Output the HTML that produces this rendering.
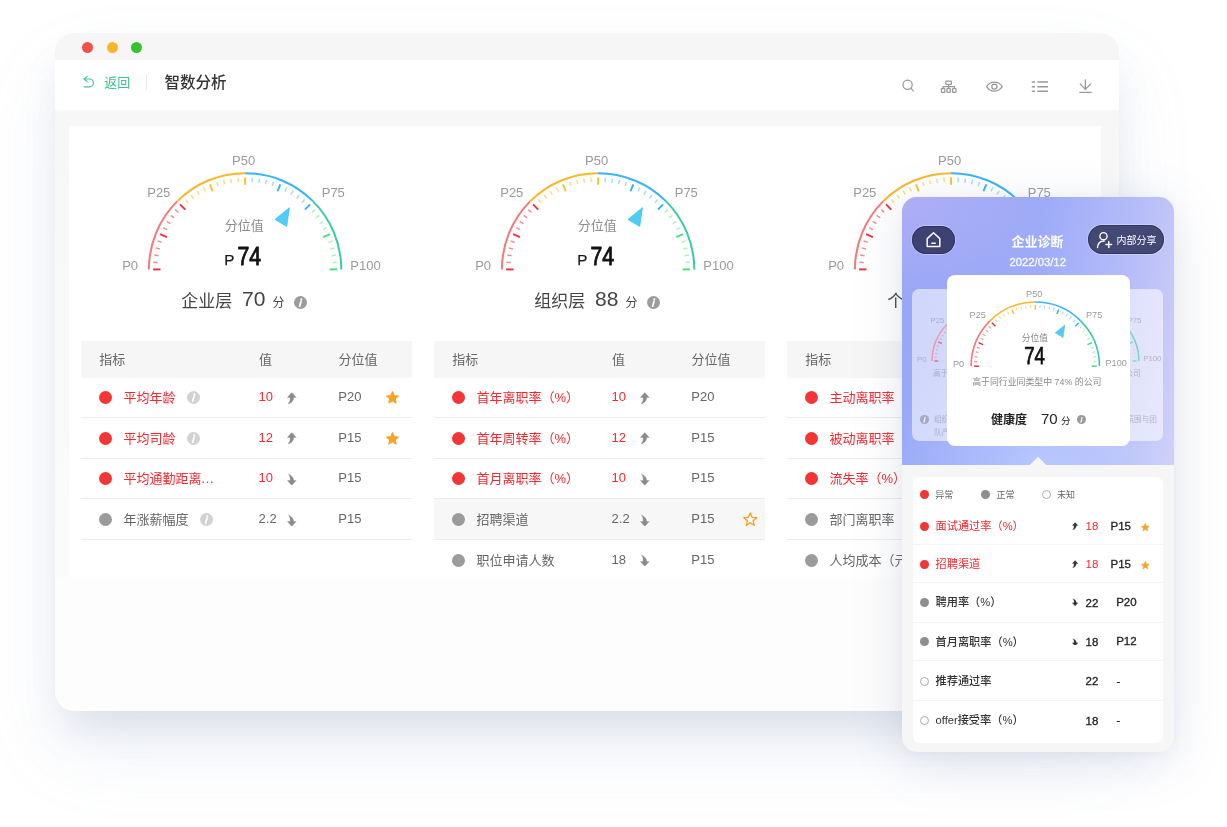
<!DOCTYPE html>
<html><head><meta charset="utf-8"><title>智数分析</title>
<style>
*{margin:0;padding:0;box-sizing:border-box}
html,body{width:1227px;height:827px;overflow:hidden;background:#fff}
body{position:relative;font-family:"Liberation Sans", "Noto Sans CJK SC", sans-serif}
.abs{position:absolute}
.t{white-space:nowrap}
svg text{font-family:"Liberation Sans", "Noto Sans CJK SC", sans-serif}
</style></head><body>
<div class="abs" style="left:55.0px;top:33.0px;width:1063.6px;height:677.5px;border-radius:20px;background:linear-gradient(to bottom,#f7f7f7 0px,#f7f7f7 95px,#f9f9f9 300px,#fbfbfb 544px);overflow:hidden;box-shadow:0 26px 40px -10px rgba(120,135,175,0.20), 0 40px 80px rgba(130,145,190,0.11)">
</div>
<div class="abs" style="left:55.0px;top:33.0px;width:1063.6px;height:27px;background:#f6f6f6;border-radius:20px 20px 0 0"></div>
<div class="abs" style="left:82.30px;top:41.60px;width:11.2px;height:11.2px;background:#f64f4a;border-radius:50%"></div>
<div class="abs" style="left:107.00px;top:41.60px;width:11.2px;height:11.2px;background:#fbb42c;border-radius:50%"></div>
<div class="abs" style="left:130.50px;top:41.60px;width:11.2px;height:11.2px;background:#37c234;border-radius:50%"></div>
<div class="abs" style="left:55.0px;top:60px;width:1063.6px;height:50px;background:#fff"></div>
<svg class="abs" style="left:82px;top:75px" width="15" height="14" viewBox="0 0 15 14"><path d="M2.2 4.0 L7.5 4.0 A3.9 3.9 0 0 1 7.5 11.8 L2.2 11.8" fill="none" stroke="#48c595" stroke-width="1.2" stroke-linecap="round"/><path d="M5.2 1.4 L2.1 4.0 L5.2 6.6" fill="none" stroke="#48c595" stroke-width="1.2" stroke-linecap="round" stroke-linejoin="round"/></svg>
<div class="abs t" style="left:104.30px;top:74.18px;font-size:13px;line-height:18.20px;color:#3ec18f;font-weight:normal;">返回</div>
<div class="abs" style="left:146px;top:75px;width:1px;height:14.5px;background:#e8e8e8"></div>
<div class="abs t" style="left:164.50px;top:72.38px;font-size:15.5px;line-height:21.70px;color:#333;font-weight:500;">智数分析</div>
<svg class="abs" style="left:0;top:0" width="1227" height="120" viewBox="0 0 1227 120"><g fill="none" stroke="#999999" stroke-width="1.25"><circle cx="907.6" cy="84.8" r="4.6"/><path d="M910.9 88.2 L913.3 90.8" stroke-linecap="round"/><rect x="945.8" y="81.1" width="5.6" height="3.3" rx="0.6"/><path d="M948.6 84.4 L948.6 88.3 M943.1 88.4 L943.1 86.5 L954.5 86.5 L954.5 88.4"/><rect x="941.4" y="88.5" width="3.4" height="3.8" rx="0.6"/><rect x="946.9" y="88.5" width="3.4" height="3.8" rx="0.6"/><rect x="952.6" y="88.5" width="3.4" height="3.8" rx="0.6"/><path d="M986.6 86.6 C990.5 80.6 998.3 80.6 1002.2 86.6 C998.3 92.6 990.5 92.6 986.6 86.6 Z"/><circle cx="994.4" cy="86.6" r="2.6"/></g><g stroke="#999999" stroke-width="1.5" fill="none"><path d="M1031.8 82.1 L1035 82.1 M1037.3 82.1 L1048 82.1 M1031.8 86.7 L1035 86.7 M1037.3 86.7 L1048 86.7 M1031.8 91.2 L1035 91.2 M1037.3 91.2 L1048 91.2"/></g><g stroke="#999999" stroke-width="1.3" fill="none" stroke-linecap="round" stroke-linejoin="round"><path d="M1085.4 79.8 L1085.4 89.4 M1080.2 83.9 L1085.4 89.4 L1090.7 83.9"/><path d="M1079.3 92.4 L1091.7 92.4" stroke-linecap="butt"/></g></svg>
<div class="abs" style="left:55.0px;top:577px;width:1063.6px;height:133.5px;background:#fdfdfd;border-radius:0 0 20px 20px"></div>
<div class="abs" style="left:69px;top:125.8px;width:1032.2px;height:451.2px;background:#fff"></div>
<svg class="abs" style="left:0;top:0" width="1227" height="600" viewBox="0 0 1227 600">
<g opacity="1.0">
<path d="M148.90 269.40A96.20 96.20 0 0 1 177.08 201.38" stroke="#f7777a" stroke-width="2.0" fill="none"/>
<path d="M177.08 201.38A96.20 96.20 0 0 1 245.10 173.20" stroke="#f7b72e" stroke-width="2.0" fill="none"/>
<path d="M245.10 173.20A96.20 96.20 0 0 1 313.12 201.38" stroke="#3ab3fa" stroke-width="2.0" fill="none"/>
<path d="M313.12 201.38A96.20 96.20 0 0 1 341.30 269.40" stroke="#3ccaa6" stroke-width="2.0" fill="none"/>
<line x1="153.10" y1="269.40" x2="160.50" y2="269.40" stroke="#ec3140" stroke-width="1.90" opacity="1"/>
<line x1="153.38" y1="262.18" x2="157.77" y2="262.53" stroke="#f37a85" stroke-width="1.40" opacity="0.85"/>
<line x1="154.23" y1="255.01" x2="158.58" y2="255.70" stroke="#f37a85" stroke-width="1.40" opacity="0.85"/>
<line x1="155.64" y1="247.92" x2="159.92" y2="248.95" stroke="#f37a85" stroke-width="1.40" opacity="0.85"/>
<line x1="157.60" y1="240.97" x2="161.79" y2="242.33" stroke="#f37a85" stroke-width="1.40" opacity="0.85"/>
<line x1="160.10" y1="234.19" x2="166.94" y2="237.02" stroke="#ec3140" stroke-width="1.90" opacity="1"/>
<line x1="163.13" y1="227.63" x2="167.05" y2="229.63" stroke="#f37a85" stroke-width="1.40" opacity="0.85"/>
<line x1="166.66" y1="221.33" x2="170.41" y2="223.63" stroke="#f37a85" stroke-width="1.40" opacity="0.85"/>
<line x1="170.67" y1="215.32" x2="174.23" y2="217.91" stroke="#f37a85" stroke-width="1.40" opacity="0.85"/>
<line x1="175.14" y1="209.65" x2="178.49" y2="212.51" stroke="#f37a85" stroke-width="1.40" opacity="0.85"/>
<line x1="180.05" y1="204.35" x2="185.28" y2="209.58" stroke="#ec3140" stroke-width="1.90" opacity="1"/>
<line x1="185.35" y1="199.44" x2="188.21" y2="202.79" stroke="#f9d769" stroke-width="1.40" opacity="0.85"/>
<line x1="191.02" y1="194.97" x2="193.61" y2="198.53" stroke="#f9d769" stroke-width="1.40" opacity="0.85"/>
<line x1="197.03" y1="190.96" x2="199.33" y2="194.71" stroke="#f9d769" stroke-width="1.40" opacity="0.85"/>
<line x1="203.33" y1="187.43" x2="205.33" y2="191.35" stroke="#f9d769" stroke-width="1.40" opacity="0.85"/>
<line x1="209.89" y1="184.40" x2="212.72" y2="191.24" stroke="#f7c226" stroke-width="1.90" opacity="1"/>
<line x1="216.67" y1="181.90" x2="218.03" y2="186.09" stroke="#f9d769" stroke-width="1.40" opacity="0.85"/>
<line x1="223.62" y1="179.94" x2="224.65" y2="184.22" stroke="#f9d769" stroke-width="1.40" opacity="0.85"/>
<line x1="230.71" y1="178.53" x2="231.40" y2="182.88" stroke="#f9d769" stroke-width="1.40" opacity="0.85"/>
<line x1="237.88" y1="177.68" x2="238.23" y2="182.07" stroke="#f9d769" stroke-width="1.40" opacity="0.85"/>
<line x1="245.10" y1="177.40" x2="245.10" y2="184.80" stroke="#f7c226" stroke-width="1.90" opacity="1"/>
<line x1="252.32" y1="177.68" x2="251.97" y2="182.07" stroke="#8ed8f8" stroke-width="1.40" opacity="0.85"/>
<line x1="259.49" y1="178.53" x2="258.80" y2="182.88" stroke="#8ed8f8" stroke-width="1.40" opacity="0.85"/>
<line x1="266.58" y1="179.94" x2="265.55" y2="184.22" stroke="#8ed8f8" stroke-width="1.40" opacity="0.85"/>
<line x1="273.53" y1="181.90" x2="272.17" y2="186.09" stroke="#8ed8f8" stroke-width="1.40" opacity="0.85"/>
<line x1="280.31" y1="184.40" x2="277.48" y2="191.24" stroke="#2fb5f2" stroke-width="1.90" opacity="1"/>
<line x1="286.87" y1="187.43" x2="284.87" y2="191.35" stroke="#8ed8f8" stroke-width="1.40" opacity="0.85"/>
<line x1="293.17" y1="190.96" x2="290.87" y2="194.71" stroke="#8ed8f8" stroke-width="1.40" opacity="0.85"/>
<line x1="299.18" y1="194.97" x2="296.59" y2="198.53" stroke="#8ed8f8" stroke-width="1.40" opacity="0.85"/>
<line x1="304.85" y1="199.44" x2="301.99" y2="202.79" stroke="#8ed8f8" stroke-width="1.40" opacity="0.85"/>
<line x1="310.15" y1="204.35" x2="304.92" y2="209.58" stroke="#2fb5f2" stroke-width="1.90" opacity="1"/>
<line x1="315.06" y1="209.65" x2="311.71" y2="212.51" stroke="#a3edb9" stroke-width="1.40" opacity="0.85"/>
<line x1="319.53" y1="215.32" x2="315.97" y2="217.91" stroke="#a3edb9" stroke-width="1.40" opacity="0.85"/>
<line x1="323.54" y1="221.33" x2="319.79" y2="223.63" stroke="#a3edb9" stroke-width="1.40" opacity="0.85"/>
<line x1="327.07" y1="227.63" x2="323.15" y2="229.63" stroke="#a3edb9" stroke-width="1.40" opacity="0.85"/>
<line x1="330.10" y1="234.19" x2="323.26" y2="237.02" stroke="#4cdc80" stroke-width="1.90" opacity="1"/>
<line x1="332.60" y1="240.97" x2="328.41" y2="242.33" stroke="#a3edb9" stroke-width="1.40" opacity="0.85"/>
<line x1="334.56" y1="247.92" x2="330.28" y2="248.95" stroke="#a3edb9" stroke-width="1.40" opacity="0.85"/>
<line x1="335.97" y1="255.01" x2="331.62" y2="255.70" stroke="#a3edb9" stroke-width="1.40" opacity="0.85"/>
<line x1="336.82" y1="262.18" x2="332.43" y2="262.53" stroke="#a3edb9" stroke-width="1.40" opacity="0.85"/>
<line x1="337.10" y1="269.40" x2="329.70" y2="269.40" stroke="#4cdc80" stroke-width="1.90" opacity="1"/>
<polygon points="289.40,207.70 275.00,219.40 286.70,226.40" fill="#50ccf5" stroke="#40c3ef" stroke-width="0.80" stroke-linejoin="round"/>
<text x="243.60" y="165.00" font-size="13" fill="#9a9a9a" text-anchor="middle">P50</text>
<text x="158.80" y="197.10" font-size="13" fill="#9a9a9a" text-anchor="middle">P25</text>
<text x="333.30" y="197.10" font-size="13" fill="#9a9a9a" text-anchor="middle">P75</text>
<text x="130.10" y="270.40" font-size="13" fill="#9a9a9a" text-anchor="middle">P0</text>
<text x="350.30" y="269.80" font-size="13" fill="#9a9a9a" text-anchor="start">P100</text>
</g>
<text x="244.20" y="230.40" font-size="13" fill="#8c8c8c" text-anchor="middle">分位值</text>
<text x="224.20" y="265.10" font-size="15.2" fill="#1a1a1a" stroke="#1a1a1a" stroke-width="0.25">P</text>
<text x="237.50" y="265.40" font-size="26.5" fill="#111" stroke="#111" stroke-width="0.9" textLength="23.7" lengthAdjust="spacingAndGlyphs">74</text>
<g opacity="1.0">
<path d="M501.90 269.40A96.20 96.20 0 0 1 530.08 201.38" stroke="#f7777a" stroke-width="2.0" fill="none"/>
<path d="M530.08 201.38A96.20 96.20 0 0 1 598.10 173.20" stroke="#f7b72e" stroke-width="2.0" fill="none"/>
<path d="M598.10 173.20A96.20 96.20 0 0 1 666.12 201.38" stroke="#3ab3fa" stroke-width="2.0" fill="none"/>
<path d="M666.12 201.38A96.20 96.20 0 0 1 694.30 269.40" stroke="#3ccaa6" stroke-width="2.0" fill="none"/>
<line x1="506.10" y1="269.40" x2="513.50" y2="269.40" stroke="#ec3140" stroke-width="1.90" opacity="1"/>
<line x1="506.38" y1="262.18" x2="510.77" y2="262.53" stroke="#f37a85" stroke-width="1.40" opacity="0.85"/>
<line x1="507.23" y1="255.01" x2="511.58" y2="255.70" stroke="#f37a85" stroke-width="1.40" opacity="0.85"/>
<line x1="508.64" y1="247.92" x2="512.92" y2="248.95" stroke="#f37a85" stroke-width="1.40" opacity="0.85"/>
<line x1="510.60" y1="240.97" x2="514.79" y2="242.33" stroke="#f37a85" stroke-width="1.40" opacity="0.85"/>
<line x1="513.10" y1="234.19" x2="519.94" y2="237.02" stroke="#ec3140" stroke-width="1.90" opacity="1"/>
<line x1="516.13" y1="227.63" x2="520.05" y2="229.63" stroke="#f37a85" stroke-width="1.40" opacity="0.85"/>
<line x1="519.66" y1="221.33" x2="523.41" y2="223.63" stroke="#f37a85" stroke-width="1.40" opacity="0.85"/>
<line x1="523.67" y1="215.32" x2="527.23" y2="217.91" stroke="#f37a85" stroke-width="1.40" opacity="0.85"/>
<line x1="528.14" y1="209.65" x2="531.49" y2="212.51" stroke="#f37a85" stroke-width="1.40" opacity="0.85"/>
<line x1="533.05" y1="204.35" x2="538.28" y2="209.58" stroke="#ec3140" stroke-width="1.90" opacity="1"/>
<line x1="538.35" y1="199.44" x2="541.21" y2="202.79" stroke="#f9d769" stroke-width="1.40" opacity="0.85"/>
<line x1="544.02" y1="194.97" x2="546.61" y2="198.53" stroke="#f9d769" stroke-width="1.40" opacity="0.85"/>
<line x1="550.03" y1="190.96" x2="552.33" y2="194.71" stroke="#f9d769" stroke-width="1.40" opacity="0.85"/>
<line x1="556.33" y1="187.43" x2="558.33" y2="191.35" stroke="#f9d769" stroke-width="1.40" opacity="0.85"/>
<line x1="562.89" y1="184.40" x2="565.72" y2="191.24" stroke="#f7c226" stroke-width="1.90" opacity="1"/>
<line x1="569.67" y1="181.90" x2="571.03" y2="186.09" stroke="#f9d769" stroke-width="1.40" opacity="0.85"/>
<line x1="576.62" y1="179.94" x2="577.65" y2="184.22" stroke="#f9d769" stroke-width="1.40" opacity="0.85"/>
<line x1="583.71" y1="178.53" x2="584.40" y2="182.88" stroke="#f9d769" stroke-width="1.40" opacity="0.85"/>
<line x1="590.88" y1="177.68" x2="591.23" y2="182.07" stroke="#f9d769" stroke-width="1.40" opacity="0.85"/>
<line x1="598.10" y1="177.40" x2="598.10" y2="184.80" stroke="#f7c226" stroke-width="1.90" opacity="1"/>
<line x1="605.32" y1="177.68" x2="604.97" y2="182.07" stroke="#8ed8f8" stroke-width="1.40" opacity="0.85"/>
<line x1="612.49" y1="178.53" x2="611.80" y2="182.88" stroke="#8ed8f8" stroke-width="1.40" opacity="0.85"/>
<line x1="619.58" y1="179.94" x2="618.55" y2="184.22" stroke="#8ed8f8" stroke-width="1.40" opacity="0.85"/>
<line x1="626.53" y1="181.90" x2="625.17" y2="186.09" stroke="#8ed8f8" stroke-width="1.40" opacity="0.85"/>
<line x1="633.31" y1="184.40" x2="630.48" y2="191.24" stroke="#2fb5f2" stroke-width="1.90" opacity="1"/>
<line x1="639.87" y1="187.43" x2="637.87" y2="191.35" stroke="#8ed8f8" stroke-width="1.40" opacity="0.85"/>
<line x1="646.17" y1="190.96" x2="643.87" y2="194.71" stroke="#8ed8f8" stroke-width="1.40" opacity="0.85"/>
<line x1="652.18" y1="194.97" x2="649.59" y2="198.53" stroke="#8ed8f8" stroke-width="1.40" opacity="0.85"/>
<line x1="657.85" y1="199.44" x2="654.99" y2="202.79" stroke="#8ed8f8" stroke-width="1.40" opacity="0.85"/>
<line x1="663.15" y1="204.35" x2="657.92" y2="209.58" stroke="#2fb5f2" stroke-width="1.90" opacity="1"/>
<line x1="668.06" y1="209.65" x2="664.71" y2="212.51" stroke="#a3edb9" stroke-width="1.40" opacity="0.85"/>
<line x1="672.53" y1="215.32" x2="668.97" y2="217.91" stroke="#a3edb9" stroke-width="1.40" opacity="0.85"/>
<line x1="676.54" y1="221.33" x2="672.79" y2="223.63" stroke="#a3edb9" stroke-width="1.40" opacity="0.85"/>
<line x1="680.07" y1="227.63" x2="676.15" y2="229.63" stroke="#a3edb9" stroke-width="1.40" opacity="0.85"/>
<line x1="683.10" y1="234.19" x2="676.26" y2="237.02" stroke="#4cdc80" stroke-width="1.90" opacity="1"/>
<line x1="685.60" y1="240.97" x2="681.41" y2="242.33" stroke="#a3edb9" stroke-width="1.40" opacity="0.85"/>
<line x1="687.56" y1="247.92" x2="683.28" y2="248.95" stroke="#a3edb9" stroke-width="1.40" opacity="0.85"/>
<line x1="688.97" y1="255.01" x2="684.62" y2="255.70" stroke="#a3edb9" stroke-width="1.40" opacity="0.85"/>
<line x1="689.82" y1="262.18" x2="685.43" y2="262.53" stroke="#a3edb9" stroke-width="1.40" opacity="0.85"/>
<line x1="690.10" y1="269.40" x2="682.70" y2="269.40" stroke="#4cdc80" stroke-width="1.90" opacity="1"/>
<polygon points="642.40,207.70 628.00,219.40 639.70,226.40" fill="#50ccf5" stroke="#40c3ef" stroke-width="0.80" stroke-linejoin="round"/>
<text x="596.60" y="165.00" font-size="13" fill="#9a9a9a" text-anchor="middle">P50</text>
<text x="511.80" y="197.10" font-size="13" fill="#9a9a9a" text-anchor="middle">P25</text>
<text x="686.30" y="197.10" font-size="13" fill="#9a9a9a" text-anchor="middle">P75</text>
<text x="483.10" y="270.40" font-size="13" fill="#9a9a9a" text-anchor="middle">P0</text>
<text x="703.30" y="269.80" font-size="13" fill="#9a9a9a" text-anchor="start">P100</text>
</g>
<text x="597.20" y="230.40" font-size="13" fill="#8c8c8c" text-anchor="middle">分位值</text>
<text x="577.20" y="265.10" font-size="15.2" fill="#1a1a1a" stroke="#1a1a1a" stroke-width="0.25">P</text>
<text x="590.50" y="265.40" font-size="26.5" fill="#111" stroke="#111" stroke-width="0.9" textLength="23.7" lengthAdjust="spacingAndGlyphs">74</text>
<g opacity="1.0">
<path d="M854.90 269.40A96.20 96.20 0 0 1 883.08 201.38" stroke="#f7777a" stroke-width="2.0" fill="none"/>
<path d="M883.08 201.38A96.20 96.20 0 0 1 951.10 173.20" stroke="#f7b72e" stroke-width="2.0" fill="none"/>
<path d="M951.10 173.20A96.20 96.20 0 0 1 1019.12 201.38" stroke="#3ab3fa" stroke-width="2.0" fill="none"/>
<path d="M1019.12 201.38A96.20 96.20 0 0 1 1047.30 269.40" stroke="#3ccaa6" stroke-width="2.0" fill="none"/>
<line x1="859.10" y1="269.40" x2="866.50" y2="269.40" stroke="#ec3140" stroke-width="1.90" opacity="1"/>
<line x1="859.38" y1="262.18" x2="863.77" y2="262.53" stroke="#f37a85" stroke-width="1.40" opacity="0.85"/>
<line x1="860.23" y1="255.01" x2="864.58" y2="255.70" stroke="#f37a85" stroke-width="1.40" opacity="0.85"/>
<line x1="861.64" y1="247.92" x2="865.92" y2="248.95" stroke="#f37a85" stroke-width="1.40" opacity="0.85"/>
<line x1="863.60" y1="240.97" x2="867.79" y2="242.33" stroke="#f37a85" stroke-width="1.40" opacity="0.85"/>
<line x1="866.10" y1="234.19" x2="872.94" y2="237.02" stroke="#ec3140" stroke-width="1.90" opacity="1"/>
<line x1="869.13" y1="227.63" x2="873.05" y2="229.63" stroke="#f37a85" stroke-width="1.40" opacity="0.85"/>
<line x1="872.66" y1="221.33" x2="876.41" y2="223.63" stroke="#f37a85" stroke-width="1.40" opacity="0.85"/>
<line x1="876.67" y1="215.32" x2="880.23" y2="217.91" stroke="#f37a85" stroke-width="1.40" opacity="0.85"/>
<line x1="881.14" y1="209.65" x2="884.49" y2="212.51" stroke="#f37a85" stroke-width="1.40" opacity="0.85"/>
<line x1="886.05" y1="204.35" x2="891.28" y2="209.58" stroke="#ec3140" stroke-width="1.90" opacity="1"/>
<line x1="891.35" y1="199.44" x2="894.21" y2="202.79" stroke="#f9d769" stroke-width="1.40" opacity="0.85"/>
<line x1="897.02" y1="194.97" x2="899.61" y2="198.53" stroke="#f9d769" stroke-width="1.40" opacity="0.85"/>
<line x1="903.03" y1="190.96" x2="905.33" y2="194.71" stroke="#f9d769" stroke-width="1.40" opacity="0.85"/>
<line x1="909.33" y1="187.43" x2="911.33" y2="191.35" stroke="#f9d769" stroke-width="1.40" opacity="0.85"/>
<line x1="915.89" y1="184.40" x2="918.72" y2="191.24" stroke="#f7c226" stroke-width="1.90" opacity="1"/>
<line x1="922.67" y1="181.90" x2="924.03" y2="186.09" stroke="#f9d769" stroke-width="1.40" opacity="0.85"/>
<line x1="929.62" y1="179.94" x2="930.65" y2="184.22" stroke="#f9d769" stroke-width="1.40" opacity="0.85"/>
<line x1="936.71" y1="178.53" x2="937.40" y2="182.88" stroke="#f9d769" stroke-width="1.40" opacity="0.85"/>
<line x1="943.88" y1="177.68" x2="944.23" y2="182.07" stroke="#f9d769" stroke-width="1.40" opacity="0.85"/>
<line x1="951.10" y1="177.40" x2="951.10" y2="184.80" stroke="#f7c226" stroke-width="1.90" opacity="1"/>
<line x1="958.32" y1="177.68" x2="957.97" y2="182.07" stroke="#8ed8f8" stroke-width="1.40" opacity="0.85"/>
<line x1="965.49" y1="178.53" x2="964.80" y2="182.88" stroke="#8ed8f8" stroke-width="1.40" opacity="0.85"/>
<line x1="972.58" y1="179.94" x2="971.55" y2="184.22" stroke="#8ed8f8" stroke-width="1.40" opacity="0.85"/>
<line x1="979.53" y1="181.90" x2="978.17" y2="186.09" stroke="#8ed8f8" stroke-width="1.40" opacity="0.85"/>
<line x1="986.31" y1="184.40" x2="983.48" y2="191.24" stroke="#2fb5f2" stroke-width="1.90" opacity="1"/>
<line x1="992.87" y1="187.43" x2="990.87" y2="191.35" stroke="#8ed8f8" stroke-width="1.40" opacity="0.85"/>
<line x1="999.17" y1="190.96" x2="996.87" y2="194.71" stroke="#8ed8f8" stroke-width="1.40" opacity="0.85"/>
<line x1="1005.18" y1="194.97" x2="1002.59" y2="198.53" stroke="#8ed8f8" stroke-width="1.40" opacity="0.85"/>
<line x1="1010.85" y1="199.44" x2="1007.99" y2="202.79" stroke="#8ed8f8" stroke-width="1.40" opacity="0.85"/>
<line x1="1016.15" y1="204.35" x2="1010.92" y2="209.58" stroke="#2fb5f2" stroke-width="1.90" opacity="1"/>
<line x1="1021.06" y1="209.65" x2="1017.71" y2="212.51" stroke="#a3edb9" stroke-width="1.40" opacity="0.85"/>
<line x1="1025.53" y1="215.32" x2="1021.97" y2="217.91" stroke="#a3edb9" stroke-width="1.40" opacity="0.85"/>
<line x1="1029.54" y1="221.33" x2="1025.79" y2="223.63" stroke="#a3edb9" stroke-width="1.40" opacity="0.85"/>
<line x1="1033.07" y1="227.63" x2="1029.15" y2="229.63" stroke="#a3edb9" stroke-width="1.40" opacity="0.85"/>
<line x1="1036.10" y1="234.19" x2="1029.26" y2="237.02" stroke="#4cdc80" stroke-width="1.90" opacity="1"/>
<line x1="1038.60" y1="240.97" x2="1034.41" y2="242.33" stroke="#a3edb9" stroke-width="1.40" opacity="0.85"/>
<line x1="1040.56" y1="247.92" x2="1036.28" y2="248.95" stroke="#a3edb9" stroke-width="1.40" opacity="0.85"/>
<line x1="1041.97" y1="255.01" x2="1037.62" y2="255.70" stroke="#a3edb9" stroke-width="1.40" opacity="0.85"/>
<line x1="1042.82" y1="262.18" x2="1038.43" y2="262.53" stroke="#a3edb9" stroke-width="1.40" opacity="0.85"/>
<line x1="1043.10" y1="269.40" x2="1035.70" y2="269.40" stroke="#4cdc80" stroke-width="1.90" opacity="1"/>
<polygon points="995.40,207.70 981.00,219.40 992.70,226.40" fill="#50ccf5" stroke="#40c3ef" stroke-width="0.80" stroke-linejoin="round"/>
<text x="949.60" y="165.00" font-size="13" fill="#9a9a9a" text-anchor="middle">P50</text>
<text x="864.80" y="197.10" font-size="13" fill="#9a9a9a" text-anchor="middle">P25</text>
<text x="1039.30" y="197.10" font-size="13" fill="#9a9a9a" text-anchor="middle">P75</text>
<text x="836.10" y="270.40" font-size="13" fill="#9a9a9a" text-anchor="middle">P0</text>
<text x="1056.30" y="269.80" font-size="13" fill="#9a9a9a" text-anchor="start">P100</text>
</g>
<text x="950.20" y="230.40" font-size="13" fill="#8c8c8c" text-anchor="middle">分位值</text>
<text x="930.20" y="265.10" font-size="15.2" fill="#1a1a1a" stroke="#1a1a1a" stroke-width="0.25">P</text>
<text x="943.50" y="265.40" font-size="26.5" fill="#111" stroke="#111" stroke-width="0.9" textLength="23.7" lengthAdjust="spacingAndGlyphs">74</text>
</svg>
<div class="abs t" style="left:181.20px;top:289.62px;font-size:17px;line-height:23.80px;color:#444;font-weight:normal;">企业层</div>
<div class="abs t" style="left:242.00px;top:287.00px;font-size:21px;line-height:24px;color:#444;font-weight:300">70</div>
<div class="abs t" style="left:272.50px;top:294.82px;font-size:12px;line-height:16.80px;color:#444;font-weight:normal;">分</div>
<svg class="abs" style="left:294.10px;top:296.40px" width="13" height="13" viewBox="0 0 13 13"><circle cx="6.5" cy="6.5" r="6.5" fill="#9c9c9c"/><circle cx="7.3" cy="3.4" r="1.05" fill="#fff"/><path d="M7.0 5.3 L5.7 10.2" stroke="#fff" stroke-width="1.7" stroke-linecap="round"/></svg>
<div class="abs" style="left:81.10px;top:340.7px;width:331px;height:37px;background:#f6f6f6"></div>
<div class="abs" style="left:81.10px;top:417.00px;width:331px;height:1px;background:#ececec"></div>
<div class="abs" style="left:81.10px;top:457.70px;width:331px;height:1px;background:#ececec"></div>
<div class="abs" style="left:81.10px;top:498.40px;width:331px;height:1px;background:#ececec"></div>
<div class="abs" style="left:81.10px;top:539.10px;width:331px;height:1px;background:#ececec"></div>
<div class="abs t" style="left:99.30px;top:350.68px;font-size:13px;line-height:18.20px;color:#666;font-weight:normal;">指标</div>
<div class="abs t" style="left:259.00px;top:350.68px;font-size:13px;line-height:18.20px;color:#666;font-weight:normal;">值</div>
<div class="abs t" style="left:338.50px;top:350.68px;font-size:13px;line-height:18.20px;color:#666;font-weight:normal;">分位值</div>
<div class="abs" style="left:98.80px;top:391.00px;width:13px;height:13px;background:#f43535;border-radius:50%"></div>
<div class="abs t" style="left:123.50px;top:389.18px;font-size:13px;line-height:18.20px;color:#f5282f;font-weight:normal;">平均年龄</div>
<svg class="abs" style="left:187.10px;top:391.00px" width="13" height="13" viewBox="0 0 13 13"><circle cx="6.5" cy="6.5" r="6.5" fill="#d2d2d2"/><circle cx="7.3" cy="3.4" r="1.05" fill="#fff"/><path d="M7.0 5.3 L5.7 10.2" stroke="#fff" stroke-width="1.7" stroke-linecap="round"/></svg>
<div class="abs t" style="left:258.60px;top:388.40px;font-size:13px;line-height:18.20px;color:#f5282f;font-weight:normal;">10</div>
<svg class="abs" style="left:286.80px;top:391.70px" width="10" height="12" viewBox="0 0 10 12"><path d="M4.75 0.6 L9.3 5.5 L6.7 5.5 C6.7 8.6 4.6 11.1 0.9 12.3 C2.7 10.3 3.3 8.1 3.2 5.5 L0.3 5.5 Z" fill="#8a8a8a" stroke="#8a8a8a" stroke-width="0.3" stroke-linejoin="round"/></svg>
<div class="abs t" style="left:338.30px;top:388.40px;font-size:13px;line-height:18.20px;color:#666;font-weight:normal;">P20</div>
<svg class="abs" style="left:385.90px;top:391.00px;overflow:visible" width="13" height="13" viewBox="0 0 12 12"><polygon points="6.00,0.80 7.47,4.38 11.33,4.67 8.38,7.17 9.29,10.93 6.00,8.90 2.71,10.93 3.62,7.17 0.67,4.67 4.53,4.38" fill="#f7a326" stroke="#f7a326" stroke-width="1.2" stroke-linejoin="round"/></svg>
<div class="abs" style="left:98.80px;top:431.50px;width:13px;height:13px;background:#f43535;border-radius:50%"></div>
<div class="abs t" style="left:123.50px;top:429.68px;font-size:13px;line-height:18.20px;color:#f5282f;font-weight:normal;">平均司龄</div>
<svg class="abs" style="left:187.10px;top:431.50px" width="13" height="13" viewBox="0 0 13 13"><circle cx="6.5" cy="6.5" r="6.5" fill="#d2d2d2"/><circle cx="7.3" cy="3.4" r="1.05" fill="#fff"/><path d="M7.0 5.3 L5.7 10.2" stroke="#fff" stroke-width="1.7" stroke-linecap="round"/></svg>
<div class="abs t" style="left:258.60px;top:428.90px;font-size:13px;line-height:18.20px;color:#f5282f;font-weight:normal;">12</div>
<svg class="abs" style="left:286.80px;top:432.20px" width="10" height="12" viewBox="0 0 10 12"><path d="M4.75 0.6 L9.3 5.5 L6.7 5.5 C6.7 8.6 4.6 11.1 0.9 12.3 C2.7 10.3 3.3 8.1 3.2 5.5 L0.3 5.5 Z" fill="#8a8a8a" stroke="#8a8a8a" stroke-width="0.3" stroke-linejoin="round"/></svg>
<div class="abs t" style="left:338.30px;top:428.90px;font-size:13px;line-height:18.20px;color:#666;font-weight:normal;">P15</div>
<svg class="abs" style="left:385.90px;top:431.50px;overflow:visible" width="13" height="13" viewBox="0 0 12 12"><polygon points="6.00,0.80 7.47,4.38 11.33,4.67 8.38,7.17 9.29,10.93 6.00,8.90 2.71,10.93 3.62,7.17 0.67,4.67 4.53,4.38" fill="#f7a326" stroke="#f7a326" stroke-width="1.2" stroke-linejoin="round"/></svg>
<div class="abs" style="left:98.80px;top:472.00px;width:13px;height:13px;background:#f43535;border-radius:50%"></div>
<div class="abs t" style="left:123.50px;top:470.18px;font-size:13px;line-height:18.20px;color:#f5282f;font-weight:normal;">平均通勤距离<span style="letter-spacing:0.6px">...</span></div>
<div class="abs t" style="left:258.60px;top:469.40px;font-size:13px;line-height:18.20px;color:#f5282f;font-weight:normal;">10</div>
<svg class="abs" style="left:286.80px;top:472.70px" width="10" height="12" viewBox="0 0 10 12"><path d="M4.75 12.4 L9.2 7.5 L6.7 7.5 C6.7 4.6 4.6 2.1 1.3 0.9 C3.0 2.8 3.3 5.0 3.2 7.5 L0.4 7.5 Z" fill="#8a8a8a" stroke="#8a8a8a" stroke-width="0.3" stroke-linejoin="round"/></svg>
<div class="abs t" style="left:338.30px;top:469.40px;font-size:13px;line-height:18.20px;color:#666;font-weight:normal;">P15</div>
<div class="abs" style="left:98.80px;top:512.80px;width:13px;height:13px;background:#9b9b9b;border-radius:50%"></div>
<div class="abs t" style="left:123.50px;top:510.98px;font-size:13px;line-height:18.20px;color:#666;font-weight:normal;">年涨薪幅度</div>
<svg class="abs" style="left:200.00px;top:512.80px" width="13" height="13" viewBox="0 0 13 13"><circle cx="6.5" cy="6.5" r="6.5" fill="#d2d2d2"/><circle cx="7.3" cy="3.4" r="1.05" fill="#fff"/><path d="M7.0 5.3 L5.7 10.2" stroke="#fff" stroke-width="1.7" stroke-linecap="round"/></svg>
<div class="abs t" style="left:258.60px;top:510.20px;font-size:13px;line-height:18.20px;color:#666;font-weight:normal;">2.2</div>
<svg class="abs" style="left:286.80px;top:513.50px" width="10" height="12" viewBox="0 0 10 12"><path d="M4.75 12.4 L9.2 7.5 L6.7 7.5 C6.7 4.6 4.6 2.1 1.3 0.9 C3.0 2.8 3.3 5.0 3.2 7.5 L0.4 7.5 Z" fill="#8a8a8a" stroke="#8a8a8a" stroke-width="0.3" stroke-linejoin="round"/></svg>
<div class="abs t" style="left:338.30px;top:510.20px;font-size:13px;line-height:18.20px;color:#666;font-weight:normal;">P15</div>
<div class="abs t" style="left:534.20px;top:289.62px;font-size:17px;line-height:23.80px;color:#444;font-weight:normal;">组织层</div>
<div class="abs t" style="left:595.00px;top:287.00px;font-size:21px;line-height:24px;color:#444;font-weight:300">88</div>
<div class="abs t" style="left:625.50px;top:294.82px;font-size:12px;line-height:16.80px;color:#444;font-weight:normal;">分</div>
<svg class="abs" style="left:647.10px;top:296.40px" width="13" height="13" viewBox="0 0 13 13"><circle cx="6.5" cy="6.5" r="6.5" fill="#9c9c9c"/><circle cx="7.3" cy="3.4" r="1.05" fill="#fff"/><path d="M7.0 5.3 L5.7 10.2" stroke="#fff" stroke-width="1.7" stroke-linecap="round"/></svg>
<div class="abs" style="left:434.10px;top:340.7px;width:331px;height:37px;background:#f6f6f6"></div>
<div class="abs" style="left:434.10px;top:498.90px;width:331px;height:40.70px;background:#f7f7f7"></div>
<div class="abs" style="left:434.10px;top:417.00px;width:331px;height:1px;background:#ececec"></div>
<div class="abs" style="left:434.10px;top:457.70px;width:331px;height:1px;background:#ececec"></div>
<div class="abs" style="left:434.10px;top:498.40px;width:331px;height:1px;background:#ececec"></div>
<div class="abs" style="left:434.10px;top:539.10px;width:331px;height:1px;background:#ececec"></div>
<div class="abs t" style="left:452.30px;top:350.68px;font-size:13px;line-height:18.20px;color:#666;font-weight:normal;">指标</div>
<div class="abs t" style="left:612.00px;top:350.68px;font-size:13px;line-height:18.20px;color:#666;font-weight:normal;">值</div>
<div class="abs t" style="left:691.50px;top:350.68px;font-size:13px;line-height:18.20px;color:#666;font-weight:normal;">分位值</div>
<div class="abs" style="left:451.80px;top:391.00px;width:13px;height:13px;background:#f43535;border-radius:50%"></div>
<div class="abs t" style="left:476.50px;top:389.18px;font-size:13px;line-height:18.20px;color:#f5282f;font-weight:normal;">首年离职率（%）</div>
<div class="abs t" style="left:611.60px;top:388.40px;font-size:13px;line-height:18.20px;color:#f5282f;font-weight:normal;">10</div>
<svg class="abs" style="left:639.80px;top:391.70px" width="10" height="12" viewBox="0 0 10 12"><path d="M4.75 0.6 L9.3 5.5 L6.7 5.5 C6.7 8.6 4.6 11.1 0.9 12.3 C2.7 10.3 3.3 8.1 3.2 5.5 L0.3 5.5 Z" fill="#8a8a8a" stroke="#8a8a8a" stroke-width="0.3" stroke-linejoin="round"/></svg>
<div class="abs t" style="left:691.30px;top:388.40px;font-size:13px;line-height:18.20px;color:#666;font-weight:normal;">P20</div>
<div class="abs" style="left:451.80px;top:431.50px;width:13px;height:13px;background:#f43535;border-radius:50%"></div>
<div class="abs t" style="left:476.50px;top:429.68px;font-size:13px;line-height:18.20px;color:#f5282f;font-weight:normal;">首年周转率（%）</div>
<div class="abs t" style="left:611.60px;top:428.90px;font-size:13px;line-height:18.20px;color:#f5282f;font-weight:normal;">12</div>
<svg class="abs" style="left:639.80px;top:432.20px" width="10" height="12" viewBox="0 0 10 12"><path d="M4.75 0.6 L9.3 5.5 L6.7 5.5 C6.7 8.6 4.6 11.1 0.9 12.3 C2.7 10.3 3.3 8.1 3.2 5.5 L0.3 5.5 Z" fill="#8a8a8a" stroke="#8a8a8a" stroke-width="0.3" stroke-linejoin="round"/></svg>
<div class="abs t" style="left:691.30px;top:428.90px;font-size:13px;line-height:18.20px;color:#666;font-weight:normal;">P15</div>
<div class="abs" style="left:451.80px;top:472.00px;width:13px;height:13px;background:#f43535;border-radius:50%"></div>
<div class="abs t" style="left:476.50px;top:470.18px;font-size:13px;line-height:18.20px;color:#f5282f;font-weight:normal;">首月离职率（%）</div>
<div class="abs t" style="left:611.60px;top:469.40px;font-size:13px;line-height:18.20px;color:#f5282f;font-weight:normal;">10</div>
<svg class="abs" style="left:639.80px;top:472.70px" width="10" height="12" viewBox="0 0 10 12"><path d="M4.75 12.4 L9.2 7.5 L6.7 7.5 C6.7 4.6 4.6 2.1 1.3 0.9 C3.0 2.8 3.3 5.0 3.2 7.5 L0.4 7.5 Z" fill="#8a8a8a" stroke="#8a8a8a" stroke-width="0.3" stroke-linejoin="round"/></svg>
<div class="abs t" style="left:691.30px;top:469.40px;font-size:13px;line-height:18.20px;color:#666;font-weight:normal;">P15</div>
<div class="abs" style="left:451.80px;top:512.80px;width:13px;height:13px;background:#9b9b9b;border-radius:50%"></div>
<div class="abs t" style="left:476.50px;top:510.98px;font-size:13px;line-height:18.20px;color:#666;font-weight:normal;">招聘渠道</div>
<div class="abs t" style="left:611.60px;top:510.20px;font-size:13px;line-height:18.20px;color:#666;font-weight:normal;">2.2</div>
<svg class="abs" style="left:639.80px;top:513.50px" width="10" height="12" viewBox="0 0 10 12"><path d="M4.75 12.4 L9.2 7.5 L6.7 7.5 C6.7 4.6 4.6 2.1 1.3 0.9 C3.0 2.8 3.3 5.0 3.2 7.5 L0.4 7.5 Z" fill="#8a8a8a" stroke="#8a8a8a" stroke-width="0.3" stroke-linejoin="round"/></svg>
<div class="abs t" style="left:691.30px;top:510.20px;font-size:13px;line-height:18.20px;color:#666;font-weight:normal;">P15</div>
<svg class="abs" style="left:742.70px;top:511.70px;overflow:visible" width="14.6" height="14.6" viewBox="0 0 12 12"><polygon points="6.00,0.80 7.47,4.38 11.33,4.67 8.38,7.17 9.29,10.93 6.00,8.90 2.71,10.93 3.62,7.17 0.67,4.67 4.53,4.38" fill="none" stroke="#f7a023" stroke-width="1.1" stroke-linejoin="round"/></svg>
<div class="abs" style="left:451.80px;top:553.50px;width:13px;height:13px;background:#9b9b9b;border-radius:50%"></div>
<div class="abs t" style="left:476.50px;top:551.68px;font-size:13px;line-height:18.20px;color:#666;font-weight:normal;">职位申请人数</div>
<div class="abs t" style="left:611.60px;top:550.90px;font-size:13px;line-height:18.20px;color:#666;font-weight:normal;">18</div>
<svg class="abs" style="left:639.80px;top:554.20px" width="10" height="12" viewBox="0 0 10 12"><path d="M4.75 12.4 L9.2 7.5 L6.7 7.5 C6.7 4.6 4.6 2.1 1.3 0.9 C3.0 2.8 3.3 5.0 3.2 7.5 L0.4 7.5 Z" fill="#8a8a8a" stroke="#8a8a8a" stroke-width="0.3" stroke-linejoin="round"/></svg>
<div class="abs t" style="left:691.30px;top:550.90px;font-size:13px;line-height:18.20px;color:#666;font-weight:normal;">P15</div>
<div class="abs t" style="left:887.20px;top:289.62px;font-size:17px;line-height:23.80px;color:#444;font-weight:normal;">个人层</div>
<div class="abs t" style="left:948.00px;top:287.00px;font-size:21px;line-height:24px;color:#444;font-weight:300">76</div>
<div class="abs t" style="left:978.50px;top:294.82px;font-size:12px;line-height:16.80px;color:#444;font-weight:normal;">分</div>
<svg class="abs" style="left:1000.10px;top:296.40px" width="13" height="13" viewBox="0 0 13 13"><circle cx="6.5" cy="6.5" r="6.5" fill="#9c9c9c"/><circle cx="7.3" cy="3.4" r="1.05" fill="#fff"/><path d="M7.0 5.3 L5.7 10.2" stroke="#fff" stroke-width="1.7" stroke-linecap="round"/></svg>
<div class="abs" style="left:787.10px;top:340.7px;width:331px;height:37px;background:#f6f6f6"></div>
<div class="abs" style="left:787.10px;top:417.00px;width:331px;height:1px;background:#ececec"></div>
<div class="abs" style="left:787.10px;top:457.70px;width:331px;height:1px;background:#ececec"></div>
<div class="abs" style="left:787.10px;top:498.40px;width:331px;height:1px;background:#ececec"></div>
<div class="abs" style="left:787.10px;top:539.10px;width:331px;height:1px;background:#ececec"></div>
<div class="abs t" style="left:805.30px;top:350.68px;font-size:13px;line-height:18.20px;color:#666;font-weight:normal;">指标</div>
<div class="abs t" style="left:965.00px;top:350.68px;font-size:13px;line-height:18.20px;color:#666;font-weight:normal;">值</div>
<div class="abs t" style="left:1044.50px;top:350.68px;font-size:13px;line-height:18.20px;color:#666;font-weight:normal;">分位值</div>
<div class="abs" style="left:804.80px;top:391.00px;width:13px;height:13px;background:#f43535;border-radius:50%"></div>
<div class="abs t" style="left:829.50px;top:389.18px;font-size:13px;line-height:18.20px;color:#f5282f;font-weight:normal;">主动离职率</div>
<div class="abs t" style="left:964.60px;top:388.40px;font-size:13px;line-height:18.20px;color:#f5282f;font-weight:normal;">10</div>
<svg class="abs" style="left:992.80px;top:391.70px" width="10" height="12" viewBox="0 0 10 12"><path d="M4.75 0.6 L9.3 5.5 L6.7 5.5 C6.7 8.6 4.6 11.1 0.9 12.3 C2.7 10.3 3.3 8.1 3.2 5.5 L0.3 5.5 Z" fill="#8a8a8a" stroke="#8a8a8a" stroke-width="0.3" stroke-linejoin="round"/></svg>
<div class="abs t" style="left:1044.30px;top:388.40px;font-size:13px;line-height:18.20px;color:#666;font-weight:normal;">P20</div>
<div class="abs" style="left:804.80px;top:431.50px;width:13px;height:13px;background:#f43535;border-radius:50%"></div>
<div class="abs t" style="left:829.50px;top:429.68px;font-size:13px;line-height:18.20px;color:#f5282f;font-weight:normal;">被动离职率</div>
<div class="abs t" style="left:964.60px;top:428.90px;font-size:13px;line-height:18.20px;color:#f5282f;font-weight:normal;">12</div>
<svg class="abs" style="left:992.80px;top:432.20px" width="10" height="12" viewBox="0 0 10 12"><path d="M4.75 0.6 L9.3 5.5 L6.7 5.5 C6.7 8.6 4.6 11.1 0.9 12.3 C2.7 10.3 3.3 8.1 3.2 5.5 L0.3 5.5 Z" fill="#8a8a8a" stroke="#8a8a8a" stroke-width="0.3" stroke-linejoin="round"/></svg>
<div class="abs t" style="left:1044.30px;top:428.90px;font-size:13px;line-height:18.20px;color:#666;font-weight:normal;">P15</div>
<div class="abs" style="left:804.80px;top:472.00px;width:13px;height:13px;background:#f43535;border-radius:50%"></div>
<div class="abs t" style="left:829.50px;top:470.18px;font-size:13px;line-height:18.20px;color:#f5282f;font-weight:normal;">流失率（%）</div>
<div class="abs t" style="left:964.60px;top:469.40px;font-size:13px;line-height:18.20px;color:#f5282f;font-weight:normal;">10</div>
<svg class="abs" style="left:992.80px;top:472.70px" width="10" height="12" viewBox="0 0 10 12"><path d="M4.75 12.4 L9.2 7.5 L6.7 7.5 C6.7 4.6 4.6 2.1 1.3 0.9 C3.0 2.8 3.3 5.0 3.2 7.5 L0.4 7.5 Z" fill="#8a8a8a" stroke="#8a8a8a" stroke-width="0.3" stroke-linejoin="round"/></svg>
<div class="abs t" style="left:1044.30px;top:469.40px;font-size:13px;line-height:18.20px;color:#666;font-weight:normal;">P15</div>
<div class="abs" style="left:804.80px;top:512.80px;width:13px;height:13px;background:#9b9b9b;border-radius:50%"></div>
<div class="abs t" style="left:829.50px;top:510.98px;font-size:13px;line-height:18.20px;color:#666;font-weight:normal;">部门离职率</div>
<div class="abs t" style="left:964.60px;top:510.20px;font-size:13px;line-height:18.20px;color:#666;font-weight:normal;">2.2</div>
<svg class="abs" style="left:992.80px;top:513.50px" width="10" height="12" viewBox="0 0 10 12"><path d="M4.75 12.4 L9.2 7.5 L6.7 7.5 C6.7 4.6 4.6 2.1 1.3 0.9 C3.0 2.8 3.3 5.0 3.2 7.5 L0.4 7.5 Z" fill="#8a8a8a" stroke="#8a8a8a" stroke-width="0.3" stroke-linejoin="round"/></svg>
<div class="abs t" style="left:1044.30px;top:510.20px;font-size:13px;line-height:18.20px;color:#666;font-weight:normal;">P15</div>
<div class="abs" style="left:804.80px;top:553.50px;width:13px;height:13px;background:#9b9b9b;border-radius:50%"></div>
<div class="abs t" style="left:829.50px;top:551.68px;font-size:13px;line-height:18.20px;color:#666;font-weight:normal;">人均成本（元）</div>
<div class="abs t" style="left:964.60px;top:550.90px;font-size:13px;line-height:18.20px;color:#666;font-weight:normal;">18</div>
<svg class="abs" style="left:992.80px;top:554.20px" width="10" height="12" viewBox="0 0 10 12"><path d="M4.75 12.4 L9.2 7.5 L6.7 7.5 C6.7 4.6 4.6 2.1 1.3 0.9 C3.0 2.8 3.3 5.0 3.2 7.5 L0.4 7.5 Z" fill="#8a8a8a" stroke="#8a8a8a" stroke-width="0.3" stroke-linejoin="round"/></svg>
<div class="abs t" style="left:1044.30px;top:550.90px;font-size:13px;line-height:18.20px;color:#666;font-weight:normal;">P15</div>
<div class="abs" id="phone" style="left:901.5px;top:196.5px;width:272.4px;height:555.5px;border-radius:15px;background:#f6f6f7;overflow:hidden;box-shadow:0 10px 50px rgba(110,120,165,0.20), 0 2px 10px rgba(120,130,170,0.06)">
<div class="abs" style="left:0;top:0;width:100%;height:268.5px;background:radial-gradient(ellipse 60% 45% at 52% 100%,rgba(188,206,255,0.75),rgba(188,206,255,0) 100%),radial-gradient(ellipse 55% 40% at 0% 0%,rgba(188,178,242,0.65),rgba(188,178,242,0) 100%),linear-gradient(100deg,#97a6f7 0%,#9dabf8 45%,#b5bcf8 75%,#d3d1f8 100%)"></div>
</div>
<div class="abs" style="left:912.3px;top:288.6px;width:250.4px;height:152.7px;border-radius:7px;background:rgba(255,255,255,0.55)"></div>
<svg class="abs" style="left:920.20px;top:414.80px" width="9" height="9" viewBox="0 0 13 13"><circle cx="6.5" cy="6.5" r="6.5" fill="rgba(110,110,130,0.45)"/><circle cx="7.3" cy="3.4" r="1.05" fill="#fff"/><path d="M7.0 5.3 L5.7 10.2" stroke="#fff" stroke-width="1.7" stroke-linecap="round"/></svg>
<svg class="abs" style="left:0;top:0" width="1227" height="760" viewBox="0 0 1227 760">
<defs><clipPath id="pc2"><rect x="912.3" y="288.6" width="250.4" height="152.7" rx="7"/></clipPath></defs>
<g clip-path="url(#pc2)">
<g opacity="0.6">
<path d="M932.05 361.00A51.95 51.95 0 0 1 947.27 324.27" stroke="#f7777a" stroke-width="1.6" fill="none"/>
<path d="M947.27 324.27A51.95 51.95 0 0 1 984.00 309.05" stroke="#f7b72e" stroke-width="1.6" fill="none"/>
<path d="M984.00 309.05A51.95 51.95 0 0 1 1020.73 324.27" stroke="#3ab3fa" stroke-width="1.6" fill="none"/>
<path d="M1020.73 324.27A51.95 51.95 0 0 1 1035.95 361.00" stroke="#3ccaa6" stroke-width="1.6" fill="none"/>
<line x1="934.32" y1="361.00" x2="938.32" y2="361.00" stroke="#ec3140" stroke-width="1.50" opacity="1"/>
<line x1="934.47" y1="357.10" x2="936.84" y2="357.29" stroke="#f37a85" stroke-width="1.10" opacity="0.85"/>
<line x1="934.93" y1="353.23" x2="937.28" y2="353.60" stroke="#f37a85" stroke-width="1.10" opacity="0.85"/>
<line x1="935.69" y1="349.40" x2="938.00" y2="349.96" stroke="#f37a85" stroke-width="1.10" opacity="0.85"/>
<line x1="936.75" y1="345.65" x2="939.01" y2="346.38" stroke="#f37a85" stroke-width="1.10" opacity="0.85"/>
<line x1="938.10" y1="341.99" x2="941.79" y2="343.52" stroke="#ec3140" stroke-width="1.50" opacity="1"/>
<line x1="939.73" y1="338.45" x2="941.85" y2="339.52" stroke="#f37a85" stroke-width="1.10" opacity="0.85"/>
<line x1="941.64" y1="335.04" x2="943.67" y2="336.28" stroke="#f37a85" stroke-width="1.10" opacity="0.85"/>
<line x1="943.81" y1="331.80" x2="945.73" y2="333.20" stroke="#f37a85" stroke-width="1.10" opacity="0.85"/>
<line x1="946.22" y1="328.74" x2="948.03" y2="330.28" stroke="#f37a85" stroke-width="1.10" opacity="0.85"/>
<line x1="948.87" y1="325.87" x2="951.70" y2="328.70" stroke="#ec3140" stroke-width="1.50" opacity="1"/>
<line x1="951.74" y1="323.22" x2="953.28" y2="325.03" stroke="#f9d769" stroke-width="1.10" opacity="0.85"/>
<line x1="954.80" y1="320.81" x2="956.20" y2="322.73" stroke="#f9d769" stroke-width="1.10" opacity="0.85"/>
<line x1="958.04" y1="318.64" x2="959.28" y2="320.67" stroke="#f9d769" stroke-width="1.10" opacity="0.85"/>
<line x1="961.45" y1="316.73" x2="962.52" y2="318.85" stroke="#f9d769" stroke-width="1.10" opacity="0.85"/>
<line x1="964.99" y1="315.10" x2="966.52" y2="318.79" stroke="#f7c226" stroke-width="1.50" opacity="1"/>
<line x1="968.65" y1="313.75" x2="969.38" y2="316.01" stroke="#f9d769" stroke-width="1.10" opacity="0.85"/>
<line x1="972.40" y1="312.69" x2="972.96" y2="315.00" stroke="#f9d769" stroke-width="1.10" opacity="0.85"/>
<line x1="976.23" y1="311.93" x2="976.60" y2="314.28" stroke="#f9d769" stroke-width="1.10" opacity="0.85"/>
<line x1="980.10" y1="311.47" x2="980.29" y2="313.84" stroke="#f9d769" stroke-width="1.10" opacity="0.85"/>
<line x1="984.00" y1="311.32" x2="984.00" y2="315.32" stroke="#f7c226" stroke-width="1.50" opacity="1"/>
<line x1="987.90" y1="311.47" x2="987.71" y2="313.84" stroke="#8ed8f8" stroke-width="1.10" opacity="0.85"/>
<line x1="991.77" y1="311.93" x2="991.40" y2="314.28" stroke="#8ed8f8" stroke-width="1.10" opacity="0.85"/>
<line x1="995.60" y1="312.69" x2="995.04" y2="315.00" stroke="#8ed8f8" stroke-width="1.10" opacity="0.85"/>
<line x1="999.35" y1="313.75" x2="998.62" y2="316.01" stroke="#8ed8f8" stroke-width="1.10" opacity="0.85"/>
<line x1="1003.01" y1="315.10" x2="1001.48" y2="318.79" stroke="#2fb5f2" stroke-width="1.50" opacity="1"/>
<line x1="1006.55" y1="316.73" x2="1005.48" y2="318.85" stroke="#8ed8f8" stroke-width="1.10" opacity="0.85"/>
<line x1="1009.96" y1="318.64" x2="1008.72" y2="320.67" stroke="#8ed8f8" stroke-width="1.10" opacity="0.85"/>
<line x1="1013.20" y1="320.81" x2="1011.80" y2="322.73" stroke="#8ed8f8" stroke-width="1.10" opacity="0.85"/>
<line x1="1016.26" y1="323.22" x2="1014.72" y2="325.03" stroke="#8ed8f8" stroke-width="1.10" opacity="0.85"/>
<line x1="1019.13" y1="325.87" x2="1016.30" y2="328.70" stroke="#2fb5f2" stroke-width="1.50" opacity="1"/>
<line x1="1021.78" y1="328.74" x2="1019.97" y2="330.28" stroke="#a3edb9" stroke-width="1.10" opacity="0.85"/>
<line x1="1024.19" y1="331.80" x2="1022.27" y2="333.20" stroke="#a3edb9" stroke-width="1.10" opacity="0.85"/>
<line x1="1026.36" y1="335.04" x2="1024.33" y2="336.28" stroke="#a3edb9" stroke-width="1.10" opacity="0.85"/>
<line x1="1028.27" y1="338.45" x2="1026.15" y2="339.52" stroke="#a3edb9" stroke-width="1.10" opacity="0.85"/>
<line x1="1029.90" y1="341.99" x2="1026.21" y2="343.52" stroke="#4cdc80" stroke-width="1.50" opacity="1"/>
<line x1="1031.25" y1="345.65" x2="1028.99" y2="346.38" stroke="#a3edb9" stroke-width="1.10" opacity="0.85"/>
<line x1="1032.31" y1="349.40" x2="1030.00" y2="349.96" stroke="#a3edb9" stroke-width="1.10" opacity="0.85"/>
<line x1="1033.07" y1="353.23" x2="1030.72" y2="353.60" stroke="#a3edb9" stroke-width="1.10" opacity="0.85"/>
<line x1="1033.53" y1="357.10" x2="1031.16" y2="357.29" stroke="#a3edb9" stroke-width="1.10" opacity="0.85"/>
<line x1="1033.68" y1="361.00" x2="1029.68" y2="361.00" stroke="#4cdc80" stroke-width="1.50" opacity="1"/>
</g>
<g opacity="0.6">
<path d="M1034.95 361.00A51.95 51.95 0 0 1 1050.17 324.27" stroke="#f7777a" stroke-width="1.6" fill="none"/>
<path d="M1050.17 324.27A51.95 51.95 0 0 1 1086.90 309.05" stroke="#f7b72e" stroke-width="1.6" fill="none"/>
<path d="M1086.90 309.05A51.95 51.95 0 0 1 1123.63 324.27" stroke="#3ab3fa" stroke-width="1.6" fill="none"/>
<path d="M1123.63 324.27A51.95 51.95 0 0 1 1138.85 361.00" stroke="#3ccaa6" stroke-width="1.6" fill="none"/>
<line x1="1037.22" y1="361.00" x2="1041.22" y2="361.00" stroke="#ec3140" stroke-width="1.50" opacity="1"/>
<line x1="1037.37" y1="357.10" x2="1039.74" y2="357.29" stroke="#f37a85" stroke-width="1.10" opacity="0.85"/>
<line x1="1037.83" y1="353.23" x2="1040.18" y2="353.60" stroke="#f37a85" stroke-width="1.10" opacity="0.85"/>
<line x1="1038.59" y1="349.40" x2="1040.90" y2="349.96" stroke="#f37a85" stroke-width="1.10" opacity="0.85"/>
<line x1="1039.65" y1="345.65" x2="1041.91" y2="346.38" stroke="#f37a85" stroke-width="1.10" opacity="0.85"/>
<line x1="1041.00" y1="341.99" x2="1044.69" y2="343.52" stroke="#ec3140" stroke-width="1.50" opacity="1"/>
<line x1="1042.63" y1="338.45" x2="1044.75" y2="339.52" stroke="#f37a85" stroke-width="1.10" opacity="0.85"/>
<line x1="1044.54" y1="335.04" x2="1046.57" y2="336.28" stroke="#f37a85" stroke-width="1.10" opacity="0.85"/>
<line x1="1046.71" y1="331.80" x2="1048.63" y2="333.20" stroke="#f37a85" stroke-width="1.10" opacity="0.85"/>
<line x1="1049.12" y1="328.74" x2="1050.93" y2="330.28" stroke="#f37a85" stroke-width="1.10" opacity="0.85"/>
<line x1="1051.77" y1="325.87" x2="1054.60" y2="328.70" stroke="#ec3140" stroke-width="1.50" opacity="1"/>
<line x1="1054.64" y1="323.22" x2="1056.18" y2="325.03" stroke="#f9d769" stroke-width="1.10" opacity="0.85"/>
<line x1="1057.70" y1="320.81" x2="1059.10" y2="322.73" stroke="#f9d769" stroke-width="1.10" opacity="0.85"/>
<line x1="1060.94" y1="318.64" x2="1062.18" y2="320.67" stroke="#f9d769" stroke-width="1.10" opacity="0.85"/>
<line x1="1064.35" y1="316.73" x2="1065.42" y2="318.85" stroke="#f9d769" stroke-width="1.10" opacity="0.85"/>
<line x1="1067.89" y1="315.10" x2="1069.42" y2="318.79" stroke="#f7c226" stroke-width="1.50" opacity="1"/>
<line x1="1071.55" y1="313.75" x2="1072.28" y2="316.01" stroke="#f9d769" stroke-width="1.10" opacity="0.85"/>
<line x1="1075.30" y1="312.69" x2="1075.86" y2="315.00" stroke="#f9d769" stroke-width="1.10" opacity="0.85"/>
<line x1="1079.13" y1="311.93" x2="1079.50" y2="314.28" stroke="#f9d769" stroke-width="1.10" opacity="0.85"/>
<line x1="1083.00" y1="311.47" x2="1083.19" y2="313.84" stroke="#f9d769" stroke-width="1.10" opacity="0.85"/>
<line x1="1086.90" y1="311.32" x2="1086.90" y2="315.32" stroke="#f7c226" stroke-width="1.50" opacity="1"/>
<line x1="1090.80" y1="311.47" x2="1090.61" y2="313.84" stroke="#8ed8f8" stroke-width="1.10" opacity="0.85"/>
<line x1="1094.67" y1="311.93" x2="1094.30" y2="314.28" stroke="#8ed8f8" stroke-width="1.10" opacity="0.85"/>
<line x1="1098.50" y1="312.69" x2="1097.94" y2="315.00" stroke="#8ed8f8" stroke-width="1.10" opacity="0.85"/>
<line x1="1102.25" y1="313.75" x2="1101.52" y2="316.01" stroke="#8ed8f8" stroke-width="1.10" opacity="0.85"/>
<line x1="1105.91" y1="315.10" x2="1104.38" y2="318.79" stroke="#2fb5f2" stroke-width="1.50" opacity="1"/>
<line x1="1109.45" y1="316.73" x2="1108.38" y2="318.85" stroke="#8ed8f8" stroke-width="1.10" opacity="0.85"/>
<line x1="1112.86" y1="318.64" x2="1111.62" y2="320.67" stroke="#8ed8f8" stroke-width="1.10" opacity="0.85"/>
<line x1="1116.10" y1="320.81" x2="1114.70" y2="322.73" stroke="#8ed8f8" stroke-width="1.10" opacity="0.85"/>
<line x1="1119.16" y1="323.22" x2="1117.62" y2="325.03" stroke="#8ed8f8" stroke-width="1.10" opacity="0.85"/>
<line x1="1122.03" y1="325.87" x2="1119.20" y2="328.70" stroke="#2fb5f2" stroke-width="1.50" opacity="1"/>
<line x1="1124.68" y1="328.74" x2="1122.87" y2="330.28" stroke="#a3edb9" stroke-width="1.10" opacity="0.85"/>
<line x1="1127.09" y1="331.80" x2="1125.17" y2="333.20" stroke="#a3edb9" stroke-width="1.10" opacity="0.85"/>
<line x1="1129.26" y1="335.04" x2="1127.23" y2="336.28" stroke="#a3edb9" stroke-width="1.10" opacity="0.85"/>
<line x1="1131.17" y1="338.45" x2="1129.05" y2="339.52" stroke="#a3edb9" stroke-width="1.10" opacity="0.85"/>
<line x1="1132.80" y1="341.99" x2="1129.11" y2="343.52" stroke="#4cdc80" stroke-width="1.50" opacity="1"/>
<line x1="1134.15" y1="345.65" x2="1131.89" y2="346.38" stroke="#a3edb9" stroke-width="1.10" opacity="0.85"/>
<line x1="1135.21" y1="349.40" x2="1132.90" y2="349.96" stroke="#a3edb9" stroke-width="1.10" opacity="0.85"/>
<line x1="1135.97" y1="353.23" x2="1133.62" y2="353.60" stroke="#a3edb9" stroke-width="1.10" opacity="0.85"/>
<line x1="1136.43" y1="357.10" x2="1134.06" y2="357.29" stroke="#a3edb9" stroke-width="1.10" opacity="0.85"/>
<line x1="1136.58" y1="361.00" x2="1132.58" y2="361.00" stroke="#4cdc80" stroke-width="1.50" opacity="1"/>
</g>
<g opacity="0.55" font-size="7.8" fill="#8a8aa0"><text x="921.8" y="361.8" text-anchor="middle">P0</text><text x="937.5" y="323.2" text-anchor="middle">P25</text><text x="1134.5" y="323.2" text-anchor="middle">P75</text><text x="1143.2" y="361.3">P100</text><text x="933" y="375.5" font-size="7.6">高于</text><text x="1117.8" y="375.5" font-size="7.6">的公司</text><text x="934" y="421.8" font-size="7.6">组织</text><text x="934" y="434.8" font-size="7.6">队产</text><text x="1126.5" y="421.8" font-size="7.6">氛围与团</text></g>
</g>
</svg>
<div class="abs" style="left:946.5px;top:275.3px;width:183.3px;height:171.2px;border-radius:8px;background:#fff"></div>
<svg class="abs" style="left:1076.50px;top:415.00px" width="9" height="9" viewBox="0 0 13 13"><circle cx="6.5" cy="6.5" r="6.5" fill="#9a9a9a"/><circle cx="7.3" cy="3.4" r="1.05" fill="#fff"/><path d="M7.0 5.3 L5.7 10.2" stroke="#fff" stroke-width="1.7" stroke-linecap="round"/></svg>
<div class="abs" style="left:912.1px;top:225.5px;width:43px;height:28.7px;border-radius:15px;background:#3e4273;box-shadow:0 0 0 1px rgba(255,255,255,0.28), inset 0 0 0 1px rgba(30,33,72,0.45)"></div>
<svg class="abs" style="left:925px;top:231px" width="17" height="18" viewBox="0 0 17 18"><path d="M2.2 7.6 L8.5 1.8 L14.8 7.6 L14.8 15.6 L2.2 15.6 Z" fill="none" stroke="#fff" stroke-width="1.5" stroke-linejoin="round"/><path d="M6.8 12.2 L10.2 12.2" stroke="#fff" stroke-width="1.5" stroke-linecap="round"/></svg>
<div class="abs t" style="left:1011.40px;top:232.68px;font-size:13px;line-height:18.20px;color:#fff;font-weight:bold;">企业诊断</div>
<div class="abs t" style="left:1009.40px;top:254.89px;font-size:11.3px;line-height:15.82px;color:rgba(255,255,255,0.92);font-weight:normal;-webkit-text-stroke:0.3px rgba(255,255,255,0.9);">2022/03/12</div>
<div class="abs" style="left:1087.7px;top:225.2px;width:76.3px;height:29.3px;border-radius:15px;background:#444874;box-shadow:0 0 0 1px rgba(255,255,255,0.28), inset 0 0 0 1px rgba(30,33,72,0.45)"></div>
<svg class="abs" style="left:1096px;top:231px" width="17" height="18" viewBox="0 0 17 18"><circle cx="7.5" cy="5.2" r="3.6" fill="none" stroke="#fff" stroke-width="1.4"/><path d="M1.5 16.5 C1.8 12.2 4.5 10 8.2 10" fill="none" stroke="#fff" stroke-width="1.4" stroke-linecap="round"/><path d="M10 13.6 L15.6 13.6 M12.8 10.8 L12.8 16.4" stroke="#fff" stroke-width="1.5" stroke-linecap="round"/></svg>
<div class="abs t" style="left:1116.40px;top:233.60px;font-size:10px;line-height:14.00px;color:#fff;font-weight:normal;">内部分享</div>
<div class="abs" style="left:912.7px;top:476.6px;width:250.6px;height:266.4px;border-radius:7px;background:#fff"></div>
<div class="abs" style="left:920.00px;top:490.30px;width:9px;height:9px;background:#f43535;border-radius:50%"></div>
<div class="abs t" style="left:935.20px;top:489.04px;font-size:9px;line-height:12.60px;color:#666;font-weight:normal;">异常</div>
<div class="abs" style="left:981.00px;top:490.30px;width:9px;height:9px;background:#8e8e8e;border-radius:50%"></div>
<div class="abs t" style="left:996.60px;top:489.04px;font-size:9px;line-height:12.60px;color:#666;font-weight:normal;">正常</div>
<div class="abs" style="left:1042.20px;top:490.30px;width:9px;height:9px;border:1px solid #aaa;border-radius:50%"></div>
<div class="abs t" style="left:1057.00px;top:489.04px;font-size:9px;line-height:12.60px;color:#666;font-weight:normal;">未知</div>
<div class="abs" style="left:912.7px;top:544.20px;width:250.6px;height:1px;background:#f4f4f4"></div>
<div class="abs" style="left:912.7px;top:582.00px;width:250.6px;height:1px;background:#f4f4f4"></div>
<div class="abs" style="left:912.7px;top:621.50px;width:250.6px;height:1px;background:#f4f4f4"></div>
<div class="abs" style="left:912.7px;top:660.30px;width:250.6px;height:1px;background:#f4f4f4"></div>
<div class="abs" style="left:912.7px;top:700.00px;width:250.6px;height:1px;background:#f4f4f4"></div>
<div class="abs" style="left:920.00px;top:521.80px;width:9px;height:9px;background:#f43535;border-radius:50%"></div>
<div class="abs t" style="left:935.50px;top:519.13px;font-size:11.2px;line-height:15.68px;color:#f5282f;font-weight:normal;">面试通过率（%）</div>
<svg class="abs" style="left:1072.40px;top:522.10px" width="6.5" height="7.8" viewBox="0 0 10 12"><path d="M4.75 0.6 L9.3 5.5 L6.7 5.5 C6.7 8.6 4.6 11.1 0.9 12.3 C2.7 10.3 3.3 8.1 3.2 5.5 L0.3 5.5 Z" fill="#333" stroke="#333" stroke-width="0.3" stroke-linejoin="round"/></svg>
<div class="abs t" style="left:1085.50px;top:518.25px;font-size:11.5px;line-height:16.10px;color:#f5282f;font-weight:normal;">18</div>
<div class="abs t" style="left:1110.50px;top:517.75px;font-size:11.5px;line-height:16.10px;color:#222;font-weight:normal;-webkit-text-stroke:0.3px currentColor;">P15</div>
<svg class="abs" style="left:1141.30px;top:522.70px;overflow:visible" width="8.6" height="8.6" viewBox="0 0 12 12"><polygon points="6.00,0.80 7.47,4.38 11.33,4.67 8.38,7.17 9.29,10.93 6.00,8.90 2.71,10.93 3.62,7.17 0.67,4.67 4.53,4.38" fill="#f7a326" stroke="#f7a326" stroke-width="1.2" stroke-linejoin="round"/></svg>
<div class="abs" style="left:920.00px;top:559.70px;width:9px;height:9px;background:#f43535;border-radius:50%"></div>
<div class="abs t" style="left:935.50px;top:557.03px;font-size:11.2px;line-height:15.68px;color:#f5282f;font-weight:normal;">招聘渠道</div>
<svg class="abs" style="left:1072.40px;top:560.00px" width="6.5" height="7.8" viewBox="0 0 10 12"><path d="M4.75 0.6 L9.3 5.5 L6.7 5.5 C6.7 8.6 4.6 11.1 0.9 12.3 C2.7 10.3 3.3 8.1 3.2 5.5 L0.3 5.5 Z" fill="#333" stroke="#333" stroke-width="0.3" stroke-linejoin="round"/></svg>
<div class="abs t" style="left:1085.50px;top:556.15px;font-size:11.5px;line-height:16.10px;color:#f5282f;font-weight:normal;">18</div>
<div class="abs t" style="left:1110.50px;top:555.65px;font-size:11.5px;line-height:16.10px;color:#222;font-weight:normal;-webkit-text-stroke:0.3px currentColor;">P15</div>
<svg class="abs" style="left:1141.30px;top:560.60px;overflow:visible" width="8.6" height="8.6" viewBox="0 0 12 12"><polygon points="6.00,0.80 7.47,4.38 11.33,4.67 8.38,7.17 9.29,10.93 6.00,8.90 2.71,10.93 3.62,7.17 0.67,4.67 4.53,4.38" fill="#f7a326" stroke="#f7a326" stroke-width="1.2" stroke-linejoin="round"/></svg>
<div class="abs" style="left:920.00px;top:598.10px;width:9px;height:9px;background:#8e8e8e;border-radius:50%"></div>
<div class="abs t" style="left:935.50px;top:595.43px;font-size:11.2px;line-height:15.68px;color:#333;font-weight:500;">聘用率（%）</div>
<svg class="abs" style="left:1072.40px;top:598.40px" width="6.5" height="7.8" viewBox="0 0 10 12"><path d="M4.75 12.4 L9.2 7.5 L6.7 7.5 C6.7 4.6 4.6 2.1 1.3 0.9 C3.0 2.8 3.3 5.0 3.2 7.5 L0.4 7.5 Z" fill="#333" stroke="#333" stroke-width="0.3" stroke-linejoin="round"/></svg>
<div class="abs t" style="left:1085.50px;top:594.55px;font-size:11.5px;line-height:16.10px;color:#222;font-weight:normal;-webkit-text-stroke:0.3px currentColor;">22</div>
<div class="abs t" style="left:1116.20px;top:594.05px;font-size:11.5px;line-height:16.10px;color:#222;font-weight:normal;-webkit-text-stroke:0.3px currentColor;">P20</div>
<div class="abs" style="left:920.00px;top:637.30px;width:9px;height:9px;background:#8e8e8e;border-radius:50%"></div>
<div class="abs t" style="left:935.50px;top:634.63px;font-size:11.2px;line-height:15.68px;color:#333;font-weight:500;">首月离职率（%）</div>
<svg class="abs" style="left:1072.40px;top:637.60px" width="6.5" height="7.8" viewBox="0 0 10 12"><path d="M4.75 12.4 L9.2 7.5 L6.7 7.5 C6.7 4.6 4.6 2.1 1.3 0.9 C3.0 2.8 3.3 5.0 3.2 7.5 L0.4 7.5 Z" fill="#333" stroke="#333" stroke-width="0.3" stroke-linejoin="round"/></svg>
<div class="abs t" style="left:1085.50px;top:633.75px;font-size:11.5px;line-height:16.10px;color:#222;font-weight:normal;-webkit-text-stroke:0.3px currentColor;">18</div>
<div class="abs t" style="left:1116.20px;top:633.25px;font-size:11.5px;line-height:16.10px;color:#222;font-weight:normal;-webkit-text-stroke:0.3px currentColor;">P12</div>
<div class="abs" style="left:920.00px;top:677.00px;width:9px;height:9px;border:1px solid #aaa;border-radius:50%"></div>
<div class="abs t" style="left:935.50px;top:674.33px;font-size:11.2px;line-height:15.68px;color:#333;font-weight:500;">推荐通过率</div>
<div class="abs t" style="left:1085.50px;top:673.45px;font-size:11.5px;line-height:16.10px;color:#222;font-weight:normal;-webkit-text-stroke:0.3px currentColor;">22</div>
<div class="abs t" style="left:1116.50px;top:672.95px;font-size:11.5px;line-height:16.10px;color:#222;font-weight:normal;-webkit-text-stroke:0.3px currentColor;">-</div>
<div class="abs" style="left:920.00px;top:716.10px;width:9px;height:9px;border:1px solid #aaa;border-radius:50%"></div>
<div class="abs t" style="left:935.50px;top:713.43px;font-size:11.2px;line-height:15.68px;color:#333;font-weight:500;">offer接受率（%）</div>
<div class="abs t" style="left:1085.50px;top:712.55px;font-size:11.5px;line-height:16.10px;color:#222;font-weight:normal;-webkit-text-stroke:0.3px currentColor;">18</div>
<div class="abs t" style="left:1116.50px;top:712.05px;font-size:11.5px;line-height:16.10px;color:#222;font-weight:normal;-webkit-text-stroke:0.3px currentColor;">-</div>
<svg class="abs" style="left:0;top:0" width="1227" height="760" viewBox="0 0 1227 760">
<g opacity="1.0">
<path d="M971.13 366.20A64.17 64.17 0 0 1 989.93 320.83" stroke="#f7777a" stroke-width="1.6" fill="none"/>
<path d="M989.93 320.83A64.17 64.17 0 0 1 1035.30 302.03" stroke="#f7b72e" stroke-width="1.6" fill="none"/>
<path d="M1035.30 302.03A64.17 64.17 0 0 1 1080.67 320.83" stroke="#3ab3fa" stroke-width="1.6" fill="none"/>
<path d="M1080.67 320.83A64.17 64.17 0 0 1 1099.47 366.20" stroke="#3ccaa6" stroke-width="1.6" fill="none"/>
<line x1="973.94" y1="366.20" x2="978.87" y2="366.20" stroke="#ec3140" stroke-width="1.50" opacity="1"/>
<line x1="974.13" y1="361.39" x2="977.05" y2="361.62" stroke="#f37a85" stroke-width="1.10" opacity="0.85"/>
<line x1="974.69" y1="356.60" x2="977.59" y2="357.06" stroke="#f37a85" stroke-width="1.10" opacity="0.85"/>
<line x1="975.63" y1="351.87" x2="978.49" y2="352.56" stroke="#f37a85" stroke-width="1.10" opacity="0.85"/>
<line x1="976.94" y1="347.24" x2="979.73" y2="348.14" stroke="#f37a85" stroke-width="1.10" opacity="0.85"/>
<line x1="978.61" y1="342.72" x2="983.17" y2="344.61" stroke="#ec3140" stroke-width="1.50" opacity="1"/>
<line x1="980.62" y1="338.34" x2="983.24" y2="339.67" stroke="#f37a85" stroke-width="1.10" opacity="0.85"/>
<line x1="982.98" y1="334.14" x2="985.48" y2="335.67" stroke="#f37a85" stroke-width="1.10" opacity="0.85"/>
<line x1="985.66" y1="330.13" x2="988.03" y2="331.86" stroke="#f37a85" stroke-width="1.10" opacity="0.85"/>
<line x1="988.64" y1="326.35" x2="990.87" y2="328.25" stroke="#f37a85" stroke-width="1.10" opacity="0.85"/>
<line x1="991.91" y1="322.81" x2="995.40" y2="326.30" stroke="#ec3140" stroke-width="1.50" opacity="1"/>
<line x1="995.45" y1="319.54" x2="997.35" y2="321.77" stroke="#f9d769" stroke-width="1.10" opacity="0.85"/>
<line x1="999.23" y1="316.56" x2="1000.96" y2="318.93" stroke="#f9d769" stroke-width="1.10" opacity="0.85"/>
<line x1="1003.24" y1="313.88" x2="1004.77" y2="316.38" stroke="#f9d769" stroke-width="1.10" opacity="0.85"/>
<line x1="1007.44" y1="311.52" x2="1008.77" y2="314.14" stroke="#f9d769" stroke-width="1.10" opacity="0.85"/>
<line x1="1011.82" y1="309.51" x2="1013.71" y2="314.07" stroke="#f7c226" stroke-width="1.50" opacity="1"/>
<line x1="1016.34" y1="307.84" x2="1017.24" y2="310.63" stroke="#f9d769" stroke-width="1.10" opacity="0.85"/>
<line x1="1020.97" y1="306.53" x2="1021.66" y2="309.39" stroke="#f9d769" stroke-width="1.10" opacity="0.85"/>
<line x1="1025.70" y1="305.59" x2="1026.16" y2="308.49" stroke="#f9d769" stroke-width="1.10" opacity="0.85"/>
<line x1="1030.49" y1="305.03" x2="1030.72" y2="307.95" stroke="#f9d769" stroke-width="1.10" opacity="0.85"/>
<line x1="1035.30" y1="304.84" x2="1035.30" y2="309.77" stroke="#f7c226" stroke-width="1.50" opacity="1"/>
<line x1="1040.11" y1="305.03" x2="1039.88" y2="307.95" stroke="#8ed8f8" stroke-width="1.10" opacity="0.85"/>
<line x1="1044.90" y1="305.59" x2="1044.44" y2="308.49" stroke="#8ed8f8" stroke-width="1.10" opacity="0.85"/>
<line x1="1049.63" y1="306.53" x2="1048.94" y2="309.39" stroke="#8ed8f8" stroke-width="1.10" opacity="0.85"/>
<line x1="1054.26" y1="307.84" x2="1053.36" y2="310.63" stroke="#8ed8f8" stroke-width="1.10" opacity="0.85"/>
<line x1="1058.78" y1="309.51" x2="1056.89" y2="314.07" stroke="#2fb5f2" stroke-width="1.50" opacity="1"/>
<line x1="1063.16" y1="311.52" x2="1061.83" y2="314.14" stroke="#8ed8f8" stroke-width="1.10" opacity="0.85"/>
<line x1="1067.36" y1="313.88" x2="1065.83" y2="316.38" stroke="#8ed8f8" stroke-width="1.10" opacity="0.85"/>
<line x1="1071.37" y1="316.56" x2="1069.64" y2="318.93" stroke="#8ed8f8" stroke-width="1.10" opacity="0.85"/>
<line x1="1075.15" y1="319.54" x2="1073.25" y2="321.77" stroke="#8ed8f8" stroke-width="1.10" opacity="0.85"/>
<line x1="1078.69" y1="322.81" x2="1075.20" y2="326.30" stroke="#2fb5f2" stroke-width="1.50" opacity="1"/>
<line x1="1081.96" y1="326.35" x2="1079.73" y2="328.25" stroke="#a3edb9" stroke-width="1.10" opacity="0.85"/>
<line x1="1084.94" y1="330.13" x2="1082.57" y2="331.86" stroke="#a3edb9" stroke-width="1.10" opacity="0.85"/>
<line x1="1087.62" y1="334.14" x2="1085.12" y2="335.67" stroke="#a3edb9" stroke-width="1.10" opacity="0.85"/>
<line x1="1089.98" y1="338.34" x2="1087.36" y2="339.67" stroke="#a3edb9" stroke-width="1.10" opacity="0.85"/>
<line x1="1091.99" y1="342.72" x2="1087.43" y2="344.61" stroke="#4cdc80" stroke-width="1.50" opacity="1"/>
<line x1="1093.66" y1="347.24" x2="1090.87" y2="348.14" stroke="#a3edb9" stroke-width="1.10" opacity="0.85"/>
<line x1="1094.97" y1="351.87" x2="1092.11" y2="352.56" stroke="#a3edb9" stroke-width="1.10" opacity="0.85"/>
<line x1="1095.91" y1="356.60" x2="1093.01" y2="357.06" stroke="#a3edb9" stroke-width="1.10" opacity="0.85"/>
<line x1="1096.47" y1="361.39" x2="1093.55" y2="361.62" stroke="#a3edb9" stroke-width="1.10" opacity="0.85"/>
<line x1="1096.66" y1="366.20" x2="1091.73" y2="366.20" stroke="#4cdc80" stroke-width="1.50" opacity="1"/>
<polygon points="1064.85,325.05 1055.24,332.85 1063.05,337.52" fill="#50ccf5" stroke="#40c3ef" stroke-width="0.53" stroke-linejoin="round"/>
<text x="1034.30" y="296.57" font-size="9.2" fill="#9a9a9a" text-anchor="middle">P50</text>
<text x="977.74" y="317.98" font-size="9.2" fill="#9a9a9a" text-anchor="middle">P25</text>
<text x="1094.13" y="317.98" font-size="9.2" fill="#9a9a9a" text-anchor="middle">P75</text>
<text x="958.59" y="366.87" font-size="9.2" fill="#9a9a9a" text-anchor="middle">P0</text>
<text x="1105.47" y="366.47" font-size="9.2" fill="#9a9a9a" text-anchor="start">P100</text>
</g>
<text x="1034.8" y="340.8" font-size="8.7" fill="#888" text-anchor="middle">分位值</text>
<text x="1024.2" y="363.6" font-size="23.2" fill="#111" stroke="#111" stroke-width="0.75" textLength="20.8" lengthAdjust="spacingAndGlyphs">74</text>
<text x="1036.8" y="384.5" font-size="8.9" fill="#8a8a8a" text-anchor="middle">高于同行业同类型中 74% 的公司</text>
<text x="991" y="423.5" font-size="12" fill="#222" font-weight="bold">健康度</text>
<text x="1041" y="423.5" font-size="15" fill="#222">70</text>
<text x="1061" y="423.5" font-size="9.5" fill="#222">分</text>
<polygon points="1029.5,465.2 1038,456.8 1046.5,465.2" fill="#f6f6f7"/>
</svg>
</body></html>
